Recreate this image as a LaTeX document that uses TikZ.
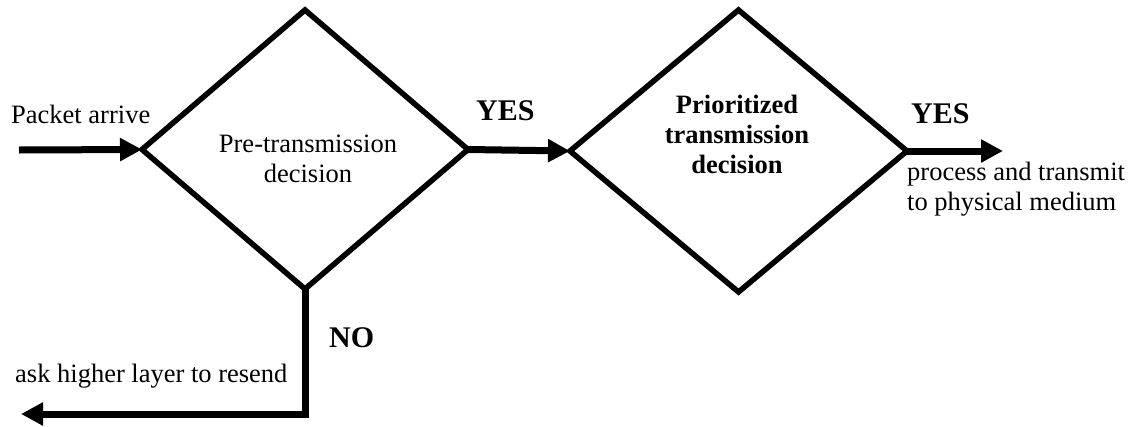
\documentclass[tikz,border=0pt]{standalone}
\usepackage{fontspec}
\setmainfont{Liberation Serif}
\usetikzlibrary{shapes.geometric,arrows.meta}

\tikzset{
  decision/.style={diamond, draw=black, line width=5.5pt, inner sep=0pt, outer sep=0pt},
  flow/.style={line width=7pt, -{Triangle[length=22pt,width=22pt]}},
  plain/.style={font=\fontsize{26.5}{30}\selectfont, inner sep=0pt},
  answer/.style={font=\fontsize{30}{34}\selectfont\bfseries, inner sep=0pt}
}

\begin{document}
\begin{tikzpicture}[x=1pt, y=-1pt]
  \useasboundingbox (0,0) rectangle (1133,426);

  % decision diamonds
  \node[decision, minimum width=326pt, minimum height=279pt] (d1) at (305,149.5) {};
  \node[decision, minimum width=337pt, minimum height=282pt] (d2) at (738.5,151) {};

  % texts inside the diamonds
  \node[plain, align=center] (t1) at (308,159) {Pre-transmission\\decision};
  \node[plain, align=center, font=\fontsize{26.5}{30}\selectfont\bfseries] (t2) at (737,134)
    {Prioritized\\transmission\\decision};

  % loose ends of the connectors
  \coordinate (in) at (19,150);
  \coordinate (out) at (1003,151);
  \coordinate (back) at (21,414);

  % connectors
  \draw[flow] (in) -- (d1.west);
  \draw[flow] (d1.east) -- (d2.west);
  \draw[flow] (d2.east) -- (out);
  \draw[flow] (d1.south) |- (back);

  % labels
  \node[plain, anchor=base west] (lin) at (11,123) {Packet arrive};
  \node[answer, anchor=base west] (yes1) at (476,120) {YES};
  \node[answer, anchor=base west] (yes2) at (911,123) {YES};
  \node[answer, anchor=base west] (no) at (329,347) {NO};
  \node[plain, anchor=base west] (lback) at (15,382) {ask higher layer to resend};
  \node[plain, anchor=west, align=left] (lout) at (907,189)
    {process and transmit\\to physical medium};
\end{tikzpicture}
\end{document}
